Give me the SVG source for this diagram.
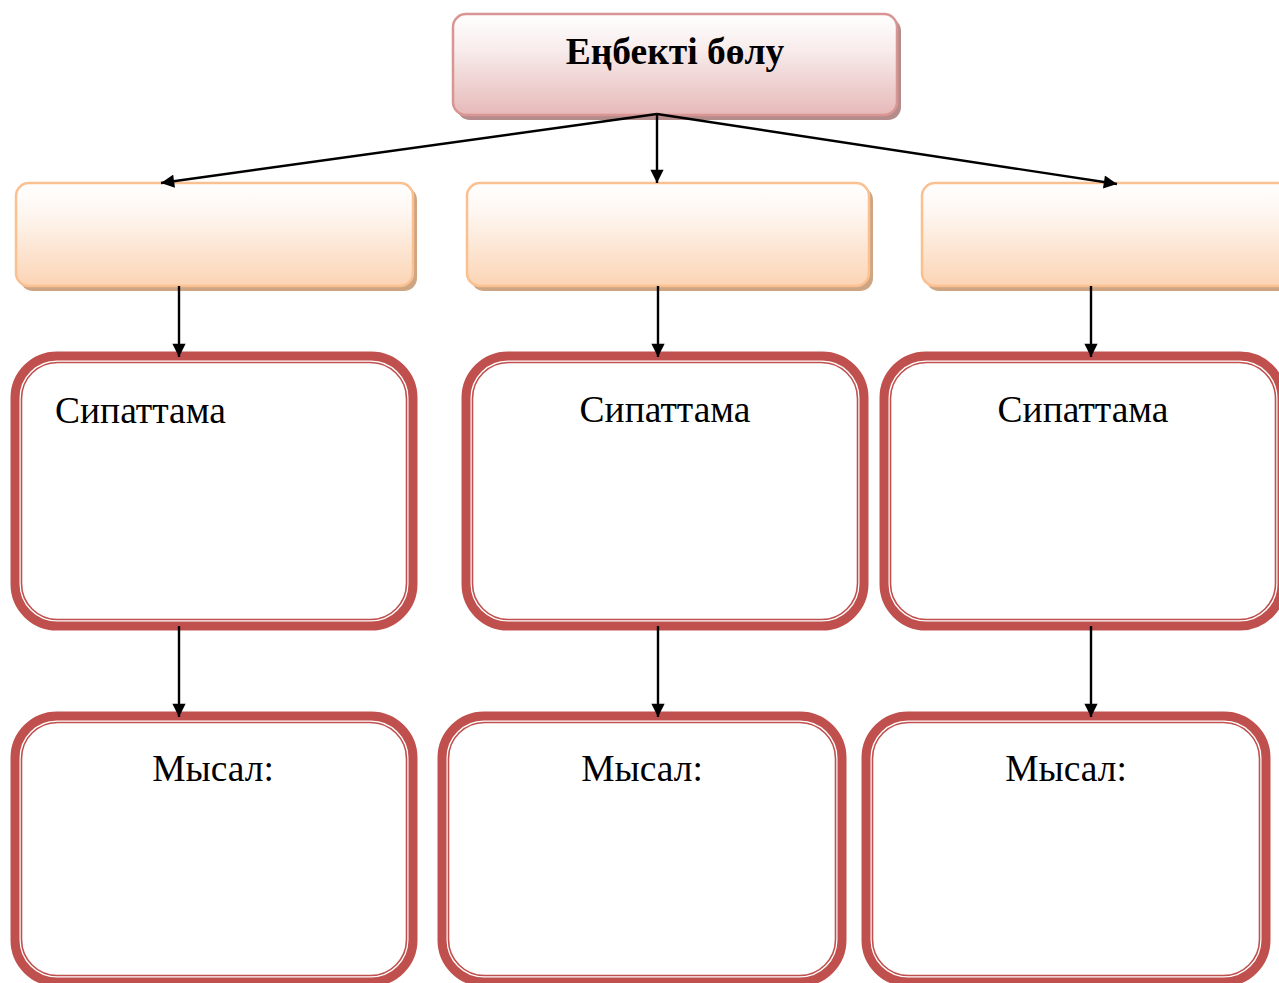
<svg xmlns="http://www.w3.org/2000/svg" width="1279" height="983" viewBox="0 0 1279 983">
<style>
.title{font-family:"Liberation Serif","Times New Roman",serif;font-size:37.5px;font-weight:bold;fill:#000}
.lbl{font-family:"Liberation Serif","Times New Roman",serif;font-size:37.5px;fill:#000}
.top{fill:url(#gPink);stroke:#d99594;stroke-width:2.5}
.topsh{fill:#b48c8c}
.org{fill:url(#gOrange);stroke:#fac08f;stroke-width:2.5}
.orgsh{fill:#cda583}
.outer{fill:#fff;stroke:#c0504d;stroke-width:9}
.inner{fill:none;stroke:#c0504d;stroke-width:1.6}
.conn{stroke:#000;stroke-width:2.4;fill:none;marker-end:url(#arr)}
</style>
<defs>
<linearGradient id="gPink" x1="0" y1="0" x2="0" y2="1">
<stop offset="0" stop-color="#ffffff"/>
<stop offset="0.35" stop-color="#f8ecec"/>
<stop offset="1" stop-color="#e6b9b8"/>
</linearGradient>
<linearGradient id="gOrange" x1="0" y1="0" x2="0" y2="1">
<stop offset="0" stop-color="#ffffff"/>
<stop offset="0.3" stop-color="#fef6f0"/>
<stop offset="1" stop-color="#fbd4b4"/>
</linearGradient>
<marker id="arr" viewBox="0 0 10 10" refX="10" refY="5" markerWidth="6.5" markerHeight="5.5" markerUnits="strokeWidth" orient="auto">
<path d="M0,0 L10,5 L0,10 z" fill="#000"/>
</marker>
</defs>
<rect width="1279" height="983" fill="#fff"/>

<g id="node-top">
<rect class="topsh" x="457" y="18" width="444" height="102" rx="13"/>
<rect class="top" x="453" y="14" width="444" height="101" rx="13"/>
<text class="title" x="675" y="64" text-anchor="middle">Еңбекті бөлу</text>
</g>

<g id="node-o1">
<rect class="orgsh" x="20" y="187" width="397" height="104" rx="13"/>
<rect class="org" x="16" y="183" width="397" height="103" rx="13"/>
</g>
<g id="node-o2">
<rect class="orgsh" x="471" y="187" width="402" height="104" rx="13"/>
<rect class="org" x="467" y="183" width="402" height="103" rx="13"/>
</g>
<g id="node-o3">
<rect class="orgsh" x="926" y="187" width="370" height="104" rx="13"/>
<rect class="org" x="922" y="183" width="370" height="103" rx="13"/>
</g>

<g id="node-s1">
<rect class="outer" x="15" y="356" width="398" height="270" rx="42"/>
<rect class="inner" x="21.5" y="362.5" width="385" height="257" rx="36"/>
<text class="lbl" x="55" y="423">Сипаттама</text>
</g>
<g id="node-s2">
<rect class="outer" x="466" y="356" width="398" height="270" rx="42"/>
<rect class="inner" x="472.5" y="362.5" width="385" height="257" rx="36"/>
<text class="lbl" x="665" y="422" text-anchor="middle">Сипаттама</text>
</g>
<g id="node-s3">
<rect class="outer" x="884" y="356" width="398" height="270" rx="42"/>
<rect class="inner" x="890.5" y="362.5" width="385" height="257" rx="36"/>
<text class="lbl" x="1083" y="422" text-anchor="middle">Сипаттама</text>
</g>

<g id="node-m1">
<rect class="outer" x="15" y="716" width="398" height="266" rx="42"/>
<rect class="inner" x="21.5" y="722.5" width="385" height="253" rx="36"/>
<text class="lbl" x="213" y="781" text-anchor="middle">Мысал:</text>
</g>
<g id="node-m2">
<rect class="outer" x="442" y="716" width="400" height="266" rx="42"/>
<rect class="inner" x="448.5" y="722.5" width="387" height="253" rx="36"/>
<text class="lbl" x="642" y="781" text-anchor="middle">Мысал:</text>
</g>
<g id="node-m3">
<rect class="outer" x="866" y="716" width="400" height="266" rx="42"/>
<rect class="inner" x="872.5" y="722.5" width="387" height="253" rx="36"/>
<text class="lbl" x="1066" y="781" text-anchor="middle">Мысал:</text>
</g>

<g id="connectors">
<line class="conn" x1="657" y1="114" x2="161" y2="183"/>
<line class="conn" x1="657" y1="114" x2="657" y2="183"/>
<line class="conn" x1="657" y1="114" x2="1117" y2="184"/>
<line class="conn" x1="179" y1="286" x2="179" y2="357"/>
<line class="conn" x1="658" y1="286" x2="658" y2="357"/>
<line class="conn" x1="1091" y1="286" x2="1091" y2="357"/>
<line class="conn" x1="179" y1="626" x2="179" y2="717"/>
<line class="conn" x1="658" y1="626" x2="658" y2="717"/>
<line class="conn" x1="1091" y1="626" x2="1091" y2="717"/>
</g>
</svg>
